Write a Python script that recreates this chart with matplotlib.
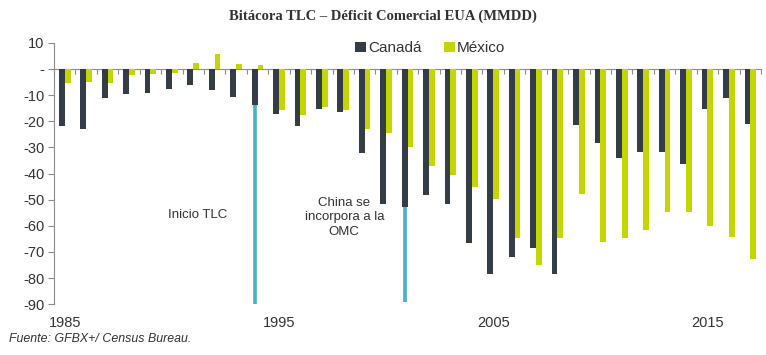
import matplotlib
matplotlib.use("Agg")
import matplotlib.pyplot as plt
import matplotlib.transforms as mtransforms
import numpy as np

years = list(range(1985, 2018))
canada = [-21.9, -22.9, -11.3, -9.7, -9.2, -7.6, -6.0, -8.0, -10.7, -14.0,
          -17.1, -21.8, -15.5, -16.5, -32.2, -51.8, -52.8, -48.2, -51.8, -66.6,
          -78.6, -71.9, -68.3, -78.4, -21.6, -28.4, -34.0, -31.7, -31.8, -36.5,
          -15.3, -11.1, -21.0]
mexico = [-5.3, -4.9, -5.5, -2.4, -2.1, -1.7, 2.3, 5.5, 1.8, 1.3,
          -15.8, -17.6, -14.5, -15.9, -22.8, -24.7, -30.0, -37.3, -40.7, -45.2,
          -49.9, -64.6, -74.8, -64.8, -47.7, -66.3, -64.6, -61.7, -54.6, -54.9,
          -60.2, -64.3, -72.5]
yticks = [10, 0, -10, -20, -30, -40, -50, -60, -70, -80, -90]
ytick_labels = ["10", "-", "-10", "-20", "-30", "-40", "-50", "-60", "-70", "-80", "-90"]
year_labels = [1985, 1995, 2005, 2015]
events = [(1994, -90.5, "Inicio TLC"), (2001, -89.0, "China se\nincorpora a la\nOMC")]

c_can = "#343c46"
c_mex = "#c4d600"
c_line = "#4badc6"
c_axis = "#8c8c8c"
c_text = "#333333"

plt.rcParams['font.family'] = ['Liberation Sans', 'DejaVu Sans']

fig = plt.figure(figsize=(7.66, 3.55), dpi=100)
ax = fig.add_axes([0.0705, 0.1428, 0.9230, 0.7369])

x = np.arange(len(years))
w = 0.27
ax.bar(x - w / 2, canada, width=w, color=c_can, label="Canadá", zorder=2)
ax.bar(x + w / 2, mexico, width=w, color=c_mex, label="México", zorder=2)

# event lines
for yr, low, txt in events:
    i = years.index(yr)
    top = canada[i]
    ax.plot([i - w / 2, i - w / 2], [top, low], color=c_line, lw=2.6,
            solid_capstyle='butt', zorder=3)

ax.text(years.index(1994) - 2.8, -55.8, "Inicio TLC", ha="center", va="center",
        fontsize=9.5, color=c_text)
ax.text(years.index(2001) - 2.95, -56.8, "China se\nincorpora a la\nOMC", ha="center",
        va="center", fontsize=9.5, color=c_text, linespacing=1.3)

ax.set_xlim(-0.5, len(years) - 0.5)
ax.set_ylim(-90, 10)

for s in ["top", "right"]:
    ax.spines[s].set_visible(False)
ax.spines["left"].set_color(c_axis)
ax.spines["bottom"].set_color(c_axis)
ax.spines["bottom"].set_position(("data", 0))
ax.spines["bottom"].set_zorder(1)

ax.set_yticks(yticks)
ax.set_yticklabels(ytick_labels)
ax.tick_params(axis="y", length=4, color=c_axis, labelsize=10.5, labelcolor=c_text, pad=3)

ax.set_xticks(np.arange(len(years) + 1) - 0.5)
ax.set_xticklabels([])
ax.tick_params(axis="x", length=3.5, color=c_axis, direction="out")

trans = mtransforms.blended_transform_factory(ax.transData, ax.transAxes)
for yl in year_labels:
    ax.text(years.index(yl), -0.07, str(yl), transform=trans, ha="center", va="center",
            fontsize=10.5, color=c_text)

leg = ax.legend(loc="upper center", bbox_to_anchor=(0.532, 1.058), ncol=2, frameon=False,
                fontsize=11, handlelength=0.7, handleheight=0.7, handletextpad=0.15,
                columnspacing=1.5, labelcolor=c_text)

fig.text(0.5, 0.955, "Bitácora TLC – Déficit Comercial EUA (MMDD)", ha="center", va="center",
         fontsize=10.5, fontweight="bold", color="#333333",
         family=["Liberation Serif", "DejaVu Serif"])
fig.text(0.012, 0.045, "Fuente: GFBX+/ Census Bureau.", ha="left", va="center",
         fontsize=8.9, style="italic", color=c_text)

fig.savefig("out.png", dpi=100)
